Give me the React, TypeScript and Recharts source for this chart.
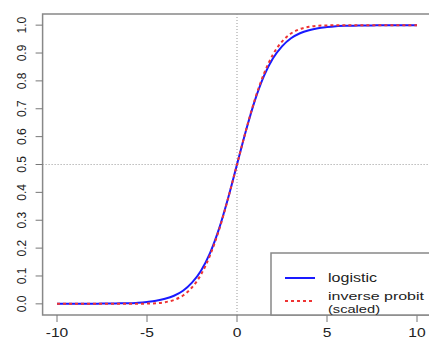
import { LineChart, Line, XAxis, YAxis, ReferenceLine, ReferenceArea } from "recharts";

const X_VALUES = [
  -10, -9.5, -9, -8.5, -8, -7.5, -7, -6.5, -6, -5.5, -5, -4.5, -4, -3.5, -3, -2.5, -2, -1.5, -1, -0.5,
  0, 0.5, 1, 1.5, 2, 2.5, 3, 3.5, 4, 4.5, 5, 5.5, 6, 6.5, 7, 7.5, 8, 8.5, 9, 9.5, 10,
];

const LOGISTIC = [
  0.0, 0.0, 0.0, 0.0, 0.0, 0.001, 0.001, 0.002, 0.002, 0.004, 0.007, 0.011, 0.018, 0.029, 0.047, 0.076, 0.119, 0.182, 0.269, 0.378,
  0.5, 0.622, 0.731, 0.818, 0.881, 0.924, 0.953, 0.971, 0.982, 0.989, 0.993, 0.996, 0.998, 0.998, 0.999, 0.999, 1.0, 1.0, 1.0, 1.0, 1.0,
];

const PROBIT = [
  0.0, 0.0, 0.0, 0.0, 0.0, 0.0, 0.0, 0.0, 0.0, 0.0, 0.001, 0.002, 0.006, 0.014, 0.03, 0.059, 0.105, 0.174, 0.265, 0.377,
  0.5, 0.623, 0.735, 0.826, 0.895, 0.941, 0.97, 0.986, 0.994, 0.998, 0.999, 1.0, 1.0, 1.0, 1.0, 1.0, 1.0, 1.0, 1.0, 1.0, 1.0,
];

const X_TICKS = [-10, -5, 0, 5, 10];
const Y_TICKS = [0, 0.1, 0.2, 0.3, 0.4, 0.5, 0.6, 0.7, 0.8, 0.9, 1.0];

const LEGEND_LABELS = ["logistic", "inverse probit", "(scaled)"];

const data = X_VALUES.map((x, i) => ({ x, logistic: LOGISTIC[i], probit: PROBIT[i] }));

const FONT = "'Liberation Sans', Arial, sans-serif";

// x labels look stretched sideways in the original, so widen them a bit
const XTick = (props: any) => {
  const { x, y, payload } = props;
  return (
    <g transform={`translate(${x},${y + 13}) scale(1.3,1)`}>
      <text x={0} y={0} textAnchor="middle" fontSize={12} fontFamily={FONT} fill="#222">
        {payload.value}
      </text>
    </g>
  );
};

const YTick = (props: any) => {
  const { x, y, payload } = props;
  const tx = x - 8;
  return (
    <text
      x={tx}
      y={y}
      transform={`rotate(-90, ${tx}, ${y})`}
      textAnchor="middle"
      fontSize={12}
      fontFamily={FONT}
      fill="#222"
    >
      {Number(payload.value).toFixed(1)}
    </text>
  );
};

export default function App() {
  return (
    <div
      style={{
        position: "absolute",
        left: 0,
        top: 0,
        width: 429,
        height: 344,
        overflow: "hidden",
        background: "#fff",
      }}
    >
      <LineChart width={432} height={344} data={data} margin={{ top: 14, right: 0.6, bottom: 0, left: 0 }}>
        <XAxis
          dataKey="x"
          type="number"
          domain={[-10.8, 10.8]}
          ticks={X_TICKS}
          allowDataOverflow
          axisLine={false}
          tickSize={7}
          tickLine={{ stroke: "#777" }}
          tick={<XTick />}
          height={29}
        />
        <YAxis
          type="number"
          domain={[-0.04, 1.04]}
          ticks={Y_TICKS}
          allowDataOverflow
          axisLine={false}
          tickSize={7}
          tickLine={{ stroke: "#777" }}
          tick={<YTick />}
          width={42.6}
        />
        <ReferenceArea x1={-10.8} x2={10.8} y1={-0.04} y2={1.04} fill="none" stroke="#888" strokeWidth={1.5} />
        <ReferenceLine x={0} stroke="#999" strokeDasharray="1 2" />
        <ReferenceLine y={0.5} stroke="#999" strokeDasharray="1 2" />
        <Line
          type="monotone"
          dataKey="logistic"
          stroke="#1a1aff"
          strokeWidth={2}
          dot={false}
          isAnimationActive={false}
        />
        <Line
          type="monotone"
          dataKey="probit"
          stroke="#ee3333"
          strokeWidth={2}
          strokeDasharray="3 3"
          dot={false}
          isAnimationActive={false}
        />
      </LineChart>

      {/* legend box in the lower right corner, like R's legend("bottomright") */}
      <svg width={429} height={344} style={{ position: "absolute", left: 0, top: 0, pointerEvents: "none" }}>
        <rect x={271} y={253} width={170} height={62} fill="#fff" stroke="#888" strokeWidth={1.5} />
        <line x1={285} x2={315} y1={278} y2={278} stroke="#1a1aff" strokeWidth={2} />
        <line x1={285} x2={315} y1={301} y2={301} stroke="#ee3333" strokeWidth={2} strokeDasharray="3 3" />
        <text x={328} y={282} fontSize={12} fontFamily={FONT} fill="#222" textLength={49} lengthAdjust="spacingAndGlyphs">
          {LEGEND_LABELS[0]}
        </text>
        <text x={328} y={300} fontSize={11} fontFamily={FONT} fill="#222" textLength={96} lengthAdjust="spacingAndGlyphs">
          {LEGEND_LABELS[1]}
        </text>
        <text x={328} y={313} fontSize={11} fontFamily={FONT} fill="#222" textLength={52} lengthAdjust="spacingAndGlyphs">
          {LEGEND_LABELS[2]}
        </text>
      </svg>
    </div>
  );
}
